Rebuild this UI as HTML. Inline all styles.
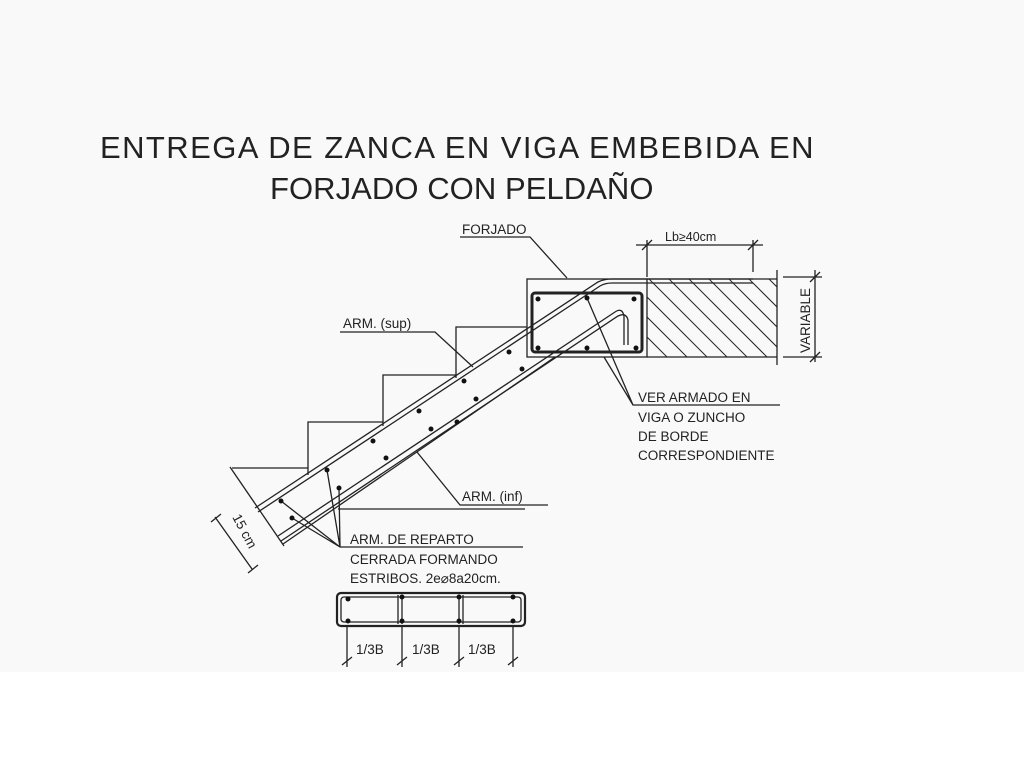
<!DOCTYPE html>
<html><head><meta charset="utf-8"><style>
html,body{margin:0;padding:0;background:#fff}
svg{display:block}
text{font-family:"Liberation Sans",sans-serif;fill:#222}
</style></head><body>
<svg width="1024" height="768" viewBox="0 0 1024 768" xmlns="http://www.w3.org/2000/svg">
<rect x="0" y="0" width="1024" height="672" fill="#f9f9f9"/>
<rect x="0" y="672" width="1024" height="96" fill="#fff"/>
<text x="100" y="158" font-size="31" letter-spacing="1.5" textLength="715">ENTREGA DE ZANCA EN VIGA EMBEBIDA EN</text>
<text x="270" y="199" font-size="31" letter-spacing="1.5" textLength="385">FORJADO CON PELDAÑO</text>
<g stroke="#222" fill="none" stroke-width="1.3">
<!-- beam -->
<rect x="527" y="279" width="120" height="78"/>
<rect x="532" y="293" width="110" height="59" rx="3" stroke-width="3"/>
<!-- hatched slab -->
<path d="M647 279 H777 M647 357 H777 M777 270 V365"/>
<clipPath id="c"><rect x="647" y="279" width="130" height="78"/></clipPath>
<g clip-path="url(#c)" stroke-width="1">
<path d="M640 270 l100 100 M660 270 l100 100 M680 270 l100 100 M700 270 l100 100 M720 270 l100 100 M740 270 l100 100 M760 270 l100 100 M620 270 l100 100 M600 270 l100 100 M580 270 l100 100 M560 270 l100 100"/>
</g>
<!-- Lb dimension -->
<path d="M636 245 H763 M647 240 V277 M753 240 V272 M642 250 l10 -10 M748 250 l10 -10"/>
<!-- VARIABLE -->
<path d="M783 277 H822 M783 357 H822 M815 270 V362 M810 282 l10 -10 M810 362 l10 -10"/>
<!-- steps -->
<path d="M232 468 H308 V475 M308 468 V422 H383 V426 M383 422 V375 H456 V378 M456 375 V327 H527"/>
<!-- slab top / sup rebar -->
<path d="M255 508 L598 282 Q604 279 612 279 H753"/>
<path d="M258 512 L600 286 Q605 283 612 283 H753"/>
<!-- slab bottom / inf rebar -->
<path d="M278 536 L615 312 Q622 307 624 316 V345"/>
<path d="M281 541 L618 316 Q626 312 628 320 V345"/>
<path d="M283 544 L555 357"/>
<!-- cut line -->
<path d="M230 467 L284 546"/>
<!-- 15cm dim -->
<path d="M215 517 L252 569 M211 522 l10 -8 M248 573 l10 -8"/>
<!-- leaders -->
<path d="M460 237 H530 L567 278 M340 332 H435 L473 367 M548 505 H460 L417 452 M338 509 H525 M523 547 H340 L281 501 M340 547 L292 518 M340 547 L327 470 M340 547 L339 488 M780 405 H633 L587 298 M633 405 L604 357"/>
<!-- bottom section -->
<rect x="337" y="593" width="188" height="33" rx="4" stroke-width="2.2"/>
<rect x="341" y="597" width="180" height="25" rx="3"/>
<path d="M398 595 V624 M402 595 V624 M459 595 V624 M463 595 V624 M347 625 V667 M402 625 V667 M459 625 V667 M513 625 V667 M342 665 l10 -8 M397 665 l10 -8 M454 665 l10 -8 M508 665 l10 -8"/>
</g>
<g fill="#111">
<circle cx="509" cy="352" r="2.5"/><circle cx="464" cy="381" r="2.5"/><circle cx="419" cy="411" r="2.5"/><circle cx="373" cy="441" r="2.5"/><circle cx="327" cy="470" r="2.5"/><circle cx="281" cy="501" r="2.5"/>
<circle cx="522" cy="369" r="2.5"/><circle cx="476" cy="399" r="2.5"/><circle cx="431" cy="429" r="2.5"/><circle cx="386" cy="458" r="2.5"/><circle cx="339" cy="488" r="2.5"/><circle cx="292" cy="518" r="2.5"/><circle cx="457" cy="422" r="2.5"/>
<circle cx="538" cy="299" r="2.5"/><circle cx="587" cy="298" r="2.5"/><circle cx="538" cy="348" r="2.5"/><circle cx="587" cy="348" r="2.5"/><circle cx="636" cy="348" r="2.5"/><circle cx="634" cy="299" r="2.5"/>
<circle cx="348" cy="599" r="2.5"/><circle cx="348" cy="621" r="2.5"/><circle cx="402" cy="597" r="2.5"/><circle cx="402" cy="621" r="2.5"/><circle cx="459" cy="597" r="2.5"/><circle cx="459" cy="621" r="2.5"/><circle cx="513" cy="597" r="2.5"/><circle cx="513" cy="621" r="2.5"/>
</g>
<g font-size="13.5">
<text x="462" y="234">FORJADO</text>
<text x="665" y="241" font-size="12.5">Lb≥40cm</text>
<text x="343" y="328">ARM. (sup)</text>
<text x="462" y="501">ARM. (inf)</text>
<text x="350" y="544">ARM. DE REPARTO</text>
<text x="350" y="564">CERRADA FORMANDO</text>
<text x="350" y="583">ESTRIBOS. 2e⌀8a20cm.</text>
<text x="638" y="402">VER ARMADO EN</text>
<text x="638" y="422">VIGA O ZUNCHO</text>
<text x="638" y="441">DE BORDE</text>
<text x="638" y="460">CORRESPONDIENTE</text>
<text x="0" y="0" transform="translate(810,353) rotate(-90)">VARIABLE</text>
<text x="0" y="0" transform="translate(232,517) rotate(62)">15 cm</text>
<text x="356" y="654">1/3B</text>
<text x="412" y="654">1/3B</text>
<text x="468" y="654">1/3B</text>
</g>
</svg>
</body></html>
